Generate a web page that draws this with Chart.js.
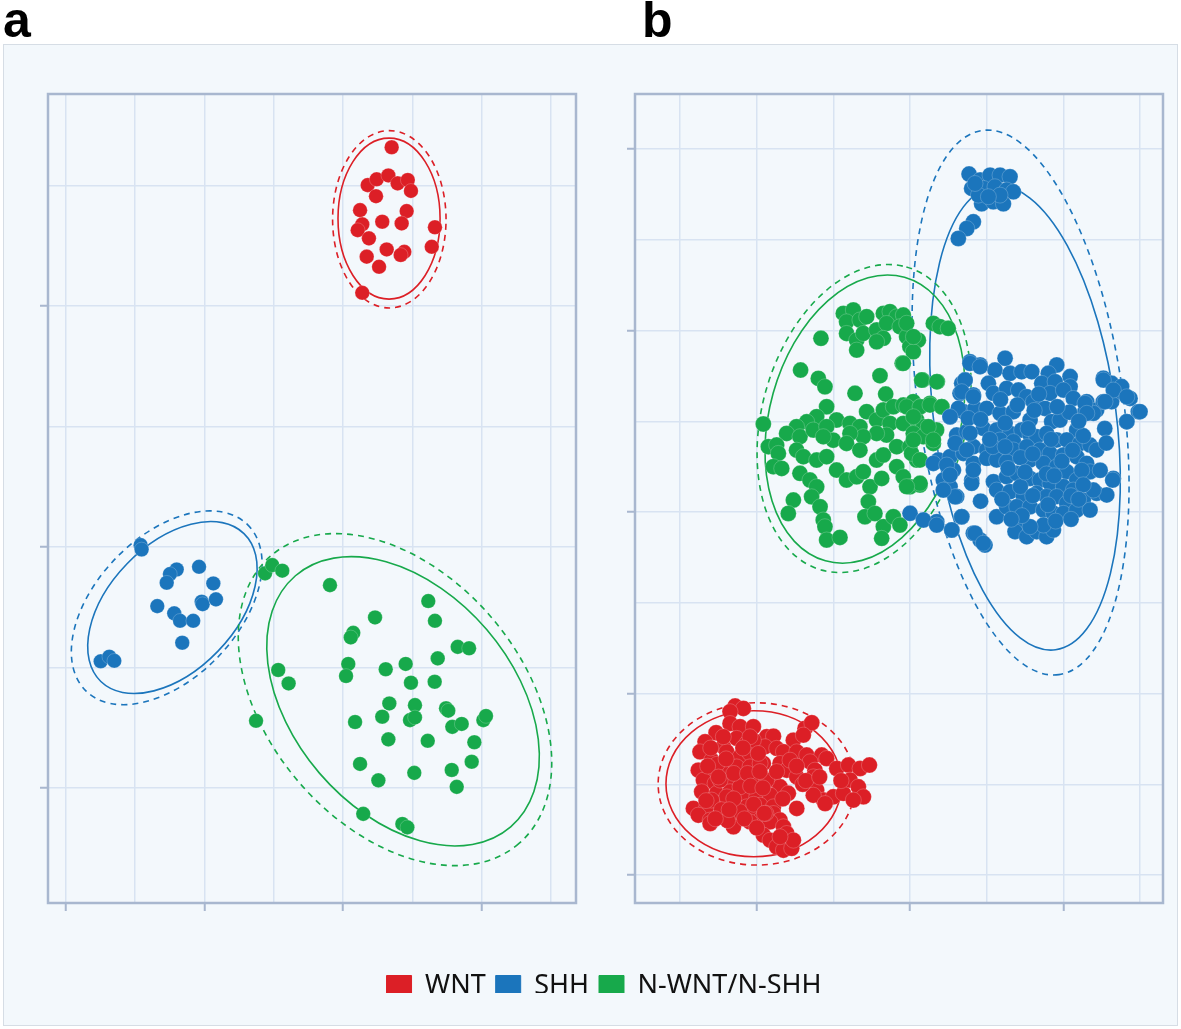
<!DOCTYPE html>
<html>
<head>
<meta charset="utf-8">
<script src="https://cdn.jsdelivr.net/npm/chart.js@4.4.1/dist/chart.umd.min.js"></script>
<style>
  body { margin: 0; background: #fff; }
  #frame { position: absolute; left: 3px; top: 44px; width: 1173px; height: 980px; background: #f3f8fc; border: 1px solid #d6dde5; }
  .tag { position: absolute; font: bold 50px "Liberation Sans", Arial, sans-serif; line-height: 50px; color: #000; }
  canvas { position: absolute; }
</style>
</head>
<body>
<div id="frame"></div>
<div class="tag" style="left:3px; top:-5px">a</div>
<div class="tag" style="left:642px; top:-5px">b</div>
<canvas id="chartA" width="546" height="827" style="left:34px; top:90px"></canvas>
<canvas id="chartB" width="546" height="827" style="left:621px; top:90px"></canvas>
<canvas id="legendChart" width="1148" height="60" style="left:30px; top:963px"></canvas>
<script>
const groups = ['WNT', 'SHH', 'N-WNT/N-SHH'];
const colors = ['#dc1f26', '#1b75bc', '#17a94b'];

// axis ranges and grid ticks (no labels, majors every 10)
const rangeAx = [-21.27, 16.80], rangeAy = [-14.77, 18.80];
const rangeBx = [-17.94, 16.50], rangeBy = [-21.54, 23.03];
const ticksAx = [-20, -15, -10, -5, 0, 5, 10, 15];
const ticksAy = [-10, -5, 0, 5, 10, 15];
const ticksBx = [-15, -10, -5, 0, 5, 10, 15];
const ticksBy = [-20, -15, -10, -5, 0, 5, 10, 15, 20];

// panel a
const wntA = [[3.51,16.59],[1.78,15.02],[2.43,15.26],[3.27,15.42],[3.94,15.09],[4.67,15.23],[4.90,14.78],[2.38,14.56],
  [1.23,13.98],[4.59,13.94],[4.23,13.43],[2.83,13.50],[1.39,13.39],[1.06,13.15],[1.87,12.81],[6.63,13.27],[6.40,12.46],
  [3.15,12.35],[4.42,12.25],[4.16,12.12],[1.71,12.05],[2.60,11.63],[1.39,10.55]];
const shhA = [[-14.59,0.08],[-14.52,-0.10],[-11.99,-0.93],[-12.48,-1.12],[-12.71,-1.48],[-10.38,-0.82],[-9.35,-1.51],
  [-13.39,-2.45],[-10.19,-2.27],[-10.12,-2.37],[-9.16,-2.17],[-12.17,-2.75],[-11.75,-3.06],[-10.80,-3.06],[-11.59,-3.97],
  [-17.47,-4.74],[-16.85,-4.55],[-16.49,-4.72]];
const nonA = [[-5.62,-1.09],[-5.10,-0.75],[-4.38,-0.98],[-0.94,-1.58],[6.15,-2.24],[2.31,-2.92],[6.63,-3.06],[0.74,-3.56],
  [0.56,-3.75],[8.27,-4.14],[9.09,-4.20],[6.83,-4.62],[-4.67,-5.10],[-3.92,-5.66],[0.38,-4.85],[0.22,-5.35],[3.08,-5.07],
  [4.52,-4.85],[4.90,-5.63],[6.61,-5.59],[3.34,-6.49],[5.19,-6.56],[2.83,-7.04],[4.83,-7.18],[5.19,-7.07],[7.43,-6.69],
  [7.59,-6.79],[7.88,-7.46],[8.56,-7.34],[10.12,-7.18],[10.31,-7.01],[-6.27,-7.21],[0.87,-7.26],[3.27,-7.98],[6.11,-8.04],
  [9.47,-8.10],[1.23,-9.00],[5.14,-9.37],[7.84,-9.25],[9.28,-8.91],[2.55,-9.68],[8.20,-9.95],[1.46,-11.07],[4.28,-11.49],
  [4.64,-11.63]];

// panel b
const wntB = [[-11.41,-10.69],[-10.87,-10.82],[-11.74,-11.00],[-11.74,-11.65],[-11.09,-11.83],[-10.22,-11.83],[-12.65,-12.16],
  [-13.37,-12.66],[-12.18,-12.93],[-11.31,-12.47],[-10.65,-12.75],[-9.35,-12.38],[-8.91,-12.35],[-7.61,-12.57],[-6.85,-11.92],
  [-6.41,-11.61],[-6.96,-12.29],[-13.70,-13.21],[-12.94,-13.67],[-11.96,-13.21],[-11.09,-13.48],[-10.44,-13.30],[-9.46,-12.93],
  [-8.70,-13.02],[-8.26,-13.21],[-7.39,-13.21],[-6.74,-13.39],[-5.76,-13.39],[-5.44,-13.58],[-13.81,-14.22],[-13.04,-14.40],
  [-12.18,-14.13],[-11.31,-14.04],[-10.44,-14.04],[-9.57,-13.85],[-8.48,-13.85],[-8.04,-14.22],[-7.39,-14.59],[-6.52,-13.76],
  [-6.20,-14.22],[-6.31,-14.59],[-4.78,-14.13],[-4.02,-13.94],[-3.26,-14.13],[-2.65,-13.94],[-13.48,-14.77],[-12.72,-14.95],
  [-11.74,-14.77],[-10.87,-14.77],[-10.00,-14.77],[-8.91,-14.77],[-8.48,-15.14],[-7.94,-15.50],[-6.09,-15.32],[-5.65,-15.87],
  [-5.00,-15.69],[-4.35,-15.50],[-3.91,-14.77],[-3.37,-15.14],[-3.04,-15.69],[-3.70,-15.87],[-13.59,-15.41],[-12.61,-15.50],
  [-11.74,-15.41],[-10.87,-15.50],[-10.00,-15.69],[-9.13,-15.60],[-6.31,-15.60],[-5.54,-16.06],[-14.13,-16.33],[-13.26,-16.24],
  [-12.39,-16.06],[-11.52,-16.06],[-10.65,-16.24],[-9.78,-16.15],[-8.91,-16.24],[-7.39,-16.33],[-13.81,-16.70],[-13.04,-16.97],
  [-12.18,-16.79],[-11.31,-16.79],[-10.44,-16.61],[-9.78,-16.97],[-8.91,-16.61],[-8.48,-16.97],[-13.04,-17.16],[-11.52,-17.34],
  [-10.44,-17.07],[-9.13,-17.07],[-8.26,-17.34],[-8.04,-17.71],[-9.57,-17.80],[-9.13,-18.08],[-8.70,-18.44],[-8.26,-18.63],
  [-7.72,-18.53],[-7.61,-18.08],[-8.48,-17.89],[-10.22,-12.57],[-12.39,-14.77],[-11.09,-15.14],[-11.96,-15.69],[-12.94,-15.87],
  [-11.09,-16.51],[-9.35,-14.77],[-9.78,-13.85],[-7.83,-13.67],[-12.18,-12.38],[-10.44,-12.38],
  [-12.6,-13.9],[-11.5,-14.4],[-10.6,-14.4],[-9.8,-14.3],[-12.3,-16.4],[-10.2,-16.1],[-9.4,-16.6],[-11.9,-17.0],[-7.0,-15.0],
  [-13.0,-13.0],[-12.0,-13.6],[-10.9,-13.0],[-9.9,-13.3],[-13.2,-14.0],[-12.5,-14.6],[-11.5,-15.8],[-10.4,-15.1],[-9.6,-15.2],
  [-13.3,-15.9],[-12.7,-16.9],[-11.8,-16.4],[-10.8,-16.9],[-10.0,-17.4],[-9.5,-16.6],[-8.3,-15.8],[-8.7,-14.3],[-7.4,-14.0],
  [-6.8,-14.8],[-5.9,-14.6],[-4.5,-14.8]];
const shhB = [[3.85,18.62],[4.57,18.29],[5.22,18.56],[5.87,18.56],[6.52,18.47],[4.02,17.83],[4.78,17.83],[5.54,17.92],
  [6.30,17.74],[6.74,17.64],[4.67,16.98],[5.43,17.09],[6.09,16.98],[4.46,17.46],[5.87,17.46],[5.11,17.37],[4.24,18.10],
  [4.13,15.99],[3.70,15.62],[3.15,15.07],
  [3.91,8.28],[4.57,8.10],[6.20,8.47],[5.54,7.82],[6.52,7.64],[7.28,7.73],[7.94,7.73],[9.57,8.10],[9.02,7.64],[10.44,7.46],
  [8.59,7.09],[9.46,7.18],[10.44,6.91],[12.61,7.37],[13.15,7.09],[3.37,7.09],[3.59,7.27],[3.26,6.54],[4.13,6.45],[5.11,7.09],
  [5.44,6.54],[6.30,6.81],[7.07,6.72],[7.61,6.35],[8.04,6.08],[9.13,6.54],[10.00,6.72],[10.65,6.26],[11.52,6.08],[12.17,5.62],
  [11.41,5.53],[12.61,6.08],[13.15,6.08],[13.80,6.63],[14.35,6.26],[14.89,5.53],[14.13,4.98],[13.80,6.91],[2.61,5.25],
  [3.48,5.53],[4.24,5.71],[5.00,5.71],[5.87,5.44],[6.74,5.53],[7.83,5.07],[8.80,5.71],[9.24,4.98],[9.78,5.07],[10.87,4.52],
  [11.96,5.44],[3.04,4.24],[3.70,4.43],[4.78,4.61],[5.65,4.52],[6.52,4.33],[7.28,4.52],[7.83,4.24],[8.26,4.15],[8.91,4.33],
  [9.57,3.97],[10.22,3.97],[11.09,3.78],[11.74,3.69],[12.17,3.42],[5.87,3.97],[6.74,3.88],[1.85,2.87],[2.61,3.05],[3.48,3.23],
  [4.13,3.60],[5.00,3.42],[5.87,3.23],[6.74,3.42],[7.61,3.60],[8.48,3.42],[9.13,3.23],[10.00,3.14],[10.87,3.05],[11.52,2.68],
  [11.74,2.22],[2.17,1.76],[2.83,2.31],[4.13,2.68],[5.00,2.96],[5.65,2.87],[6.30,2.77],[7.83,2.87],[8.70,2.68],[9.57,2.50],
  [10.22,2.22],[10.87,1.76],[12.17,1.03],[12.83,0.94],[13.26,1.85],[2.61,1.40],[3.04,0.85],[3.37,-0.26],[4.02,1.76],
  [5.44,1.67],[6.30,1.95],[6.96,2.13],[7.83,1.85],[8.48,1.76],[9.13,1.58],[10.00,1.40],[10.65,1.21],[11.30,0.66],[11.96,1.21],
  [5.65,1.21],[6.52,1.12],[7.39,0.85],[8.26,1.03],[8.91,0.85],[9.57,0.85],[10.22,0.48],[5.65,-0.26],[6.30,0.29],[6.96,0.29],
  [7.83,0.29],[8.70,0.11],[9.35,-0.07],[10.00,-0.07],[10.87,0.11],[11.74,0.11],[7.07,-0.62],[6.85,-1.08],[7.61,-1.36],
  [8.26,-1.08],[8.91,-1.36],[9.35,-0.99],[8.70,-0.72],[7.83,-0.81],[4.13,-1.17],[4.57,-1.54],[4.89,-1.82],[2.72,-0.99],
  [1.74,-0.53],
  [3.91,8.19],[4.57,8.01],[3.59,7.27],[3.37,6.63],[4.13,6.35],[3.15,5.71],[2.61,5.25],[3.80,5.16],[3.91,4.34],[2.94,3.79],
  [3.70,3.42],[1.52,2.68],[2.39,2.59],[2.61,2.04],[2.94,0.84],[3.37,-0.26],[0.00,-0.07],[0.87,-0.44],[1.74,-0.72],[2.72,-0.99],
  [4.24,-1.17],[4.78,-1.72],[4.02,1.58],[4.13,2.31],[2.17,1.21],
  [12.61,7.27],[13.26,6.72],[14.14,6.35],[15.00,5.53],[14.14,4.98],[12.72,6.08],[11.41,5.99],[11.53,5.44],[13.22,1.76],
  [8.1,5.6],[10.4,5.5],[9.2,4.0],[11.3,4.2],[7.2,3.0],[9.9,2.8],[11.2,2.3],[6.4,2.4],[8.9,2.1],[10.5,0.9],[9.0,0.4],
  [7.3,-0.2],[6.0,0.7],[11.3,1.5],[12.4,2.3],[12.7,4.6],[4.6,5.1],[5.4,3.6],[4.6,0.6],
  [5.9,6.2],[7.0,5.9],[8.4,6.5],[9.6,5.8],[11.0,5.0],[6.2,4.9],[7.7,4.6],[10.6,3.4],[12.8,3.8],[5.2,4.0],[6.2,3.6],
  [8.0,3.2],[9.4,2.0],[7.2,1.4],[8.0,0.9],[6.6,-0.4],[9.5,-0.5],[10.5,-0.4],[11.0,0.7],[7.5,2.2]];
const nonB = [[-4.35,10.94],[-3.70,11.13],[-4.14,10.48],[-3.27,10.58],[-2.83,10.76],[-4.14,9.84],[-3.48,9.47],[-3.05,9.84],
  [-2.18,10.03],[-1.74,10.94],[-1.31,11.04],[-0.87,10.76],[-0.44,10.85],[-1.53,10.39],[-0.66,10.21],[-1.74,9.57],[-2.18,9.38],
  [-0.22,9.66],[-0.01,9.11],[0.54,9.47],[-3.48,8.92],[0.21,8.83],[1.52,10.39],[1.95,10.21],[2.49,10.12],[-5.81,9.57],
  [-7.14,7.82],[-5.98,7.36],[-5.55,6.90],[-1.96,7.51],[-0.51,8.19],[-3.59,6.54],[-1.59,6.50],[0.82,7.27],[1.78,7.18],
  [-5.44,5.80],[-4.79,5.07],[-6.09,5.25],[-6.74,4.97],[-7.40,4.70],[-8.05,4.33],[-7.18,4.15],[-6.31,4.52],[-5.44,4.70],
  [-3.92,4.88],[-3.27,4.70],[-2.83,5.53],[-2.18,5.07],[-1.74,5.62],[-1.09,5.80],[-0.44,5.89],[0.21,6.08],[0.65,5.80],
  [1.30,5.98],[2.06,5.80],[-1.31,4.88],[-0.44,4.88],[0.43,5.07],[0.86,4.70],[1.73,4.52],[-1.53,4.24],[-2.18,4.33],
  [-3.05,4.15],[-3.92,4.33],[0.21,4.33],[0.86,4.15],[1.52,3.78],[-9.57,4.85],[-9.24,3.60],[-8.70,3.69],[-8.59,3.23],
  [-7.40,3.41],[-6.96,3.05],[-6.09,2.86],[-5.44,3.05],[-5.01,3.96],[-5.66,4.15],[-4.14,3.78],[-3.27,3.41],[-2.18,2.86],
  [-1.74,3.14],[-0.87,3.60],[-0.01,3.60],[0.43,2.86],[0.10,3.23],[-8.92,2.50],[-8.37,2.40],[-7.18,2.13],[-6.53,1.76],
  [-6.09,1.39],[-4.79,2.31],[-4.14,1.76],[-3.48,1.94],[-3.05,2.22],[-2.61,1.39],[-1.85,1.85],[-0.87,2.50],[-0.44,1.94],
  [-0.01,1.39],[0.65,1.49],[-7.61,0.66],[-7.94,-0.08],[-6.42,0.84],[-5.87,0.29],[-5.66,-0.44],[-5.55,-0.81],[-5.44,-1.54],
  [-4.57,-1.40],[-2.72,0.57],[-2.94,-0.26],[-2.29,-0.08],[-1.74,-0.81],[-1.09,-0.26],[-0.66,-0.72],[-1.85,-1.45],
  [-0.22,10.40],[0.22,9.66],[-0.44,8.19],[0.76,7.27],[1.74,7.18],[-0.22,5.80],[0.65,5.80],[1.30,5.90],[2.07,5.80],
  [0.22,5.25],[1.19,4.70],[0.22,3.97],[1.52,3.97],[0.65,2.87],[0.65,1.58],[-0.22,1.40]];

// ellipses: group, dashed?, centre [x,y], two conjugate semi-axes [dx,dy] (data units)
const ringsA = [
  [0, false, [3.32, 13.63], [3.68, 0], [0, 3.34]],
  [0, true, [3.34, 13.60], [4.09, 0], [0, 3.68]],
  [1, false, [-12.30, -2.51], [5.16, 3.07], [3.27, -1.82]],
  [1, true, [-12.71, -2.52], [5.81, 3.46], [3.68, -2.05]],
  [2, false, [4.33, -6.40], [7.76, -5.21], [-6.03, -2.98]],
  [2, true, [3.75, -6.33], [8.92, -5.98], [-6.94, -3.42]]
];
const ringsB = [
  [0, false, [-10.19, -14.97], [5.73, 0], [0, 4.02]],
  [0, true, [-10.00, -14.98], [6.43, 0], [0, 4.47]],
  [1, false, [7.50, 5.18], [1.99, -12.77], [-5.89, -0.66]],
  [1, true, [7.21, 6.03], [2.50, -14.99], [-6.62, -0.79]],
  [2, false, [-2.94, 5.12], [2.58, 7.81], [5.99, -1.42]],
  [2, true, [-3.00, 5.15], [2.76, 8.35], [6.41, -1.51]]
];

const gridColor = '#d8e3f2';
const edgeColor = '#a8b7cf';

// draws the confidence ellipses and the box round the plot
const ringsPlugin = {
  id: 'rings',
  beforeDatasetsDraw(chart, args, opts) {
    const ctx = chart.ctx, xs = chart.scales.x, ys = chart.scales.y;
    ctx.save();
    opts.rings.forEach(r => {
      const [g, dashed, c, u, v] = r;
      const X0 = xs.getPixelForValue(c[0]), Y0 = ys.getPixelForValue(c[1]);
      const ux = xs.getPixelForValue(c[0] + u[0]) - X0, uy = ys.getPixelForValue(c[1] + u[1]) - Y0;
      const vx = xs.getPixelForValue(c[0] + v[0]) - X0, vy = ys.getPixelForValue(c[1] + v[1]) - Y0;
      ctx.save();
      ctx.beginPath();
      ctx.transform(ux, uy, vx, vy, X0, Y0);
      ctx.arc(0, 0, 1, 0, Math.PI * 2);
      ctx.restore();
      ctx.strokeStyle = colors[g];
      ctx.lineWidth = 1.6;
      ctx.setLineDash(dashed ? [6, 5] : []);
      ctx.stroke();
    });
    ctx.setLineDash([]);
    const a = chart.chartArea;
    ctx.strokeStyle = edgeColor;
    ctx.lineWidth = 2.5;
    ctx.strokeRect(a.left, a.top, a.right - a.left, a.bottom - a.top);
    ctx.restore();
  }
};

function axis(range, ticks, horizontal) {
  return {
    type: 'linear', min: range[0], max: range[1],
    afterBuildTicks: s => { s.ticks = ticks.map(v => ({ value: v })); },
    afterFit: s => { if (horizontal) s.height = 10; else s.width = 10; },
    ticks: { display: false },
    border: { display: false },
    grid: {
      color: gridColor, lineWidth: 1.5, tickLength: 8, tickWidth: 2,
      tickColor: c => (c.tick && c.tick.value % 10 === 0) ? edgeColor : 'rgba(0,0,0,0)'
    }
  };
}

function panel(id, sets, radius, rx, ry, tx, ty, rings) {
  new Chart(document.getElementById(id), {
    type: 'scatter',
    data: {
      datasets: sets.map((d, i) => ({
        label: groups[i], data: d,
        backgroundColor: colors[i], borderColor: 'rgba(255,255,255,0.35)', borderWidth: 0.6,
        pointRadius: radius, pointHoverRadius: radius
      }))
    },
    options: {
      responsive: false, animation: false, events: [],
      layout: { padding: 4, autoPadding: false },
      plugins: { legend: { display: false }, tooltip: { enabled: false }, rings: { rings } },
      scales: { x: axis(rx, tx, true), y: axis(ry, ty, false) }
    },
    plugins: [ringsPlugin]
  });
}

panel('chartA', [wntA, shhA, nonA], 7.3, rangeAx, rangeAy, ticksAx, ticksAy, ringsA);
panel('chartB', [wntB, shhB, nonB], 8, rangeBx, rangeBy, ticksBx, ticksBy, ringsB);

// shared legend under both panels
new Chart(document.getElementById('legendChart'), {
  type: 'scatter',
  data: { datasets: groups.map((g, i) => ({ label: g, data: [], backgroundColor: colors[i], borderColor: colors[i] })) },
  options: {
    responsive: false, animation: false, events: [],
    scales: { x: { display: false }, y: { display: false } },
    plugins: {
      tooltip: { enabled: false },
      legend: {
        labels: {
          boxWidth: 25, boxHeight: 22, padding: 10, color: '#111',
          font: { size: 27, family: '"Noto Sans", sans-serif' }
        }
      }
    }
  }
});
</script>
</body>
</html>
